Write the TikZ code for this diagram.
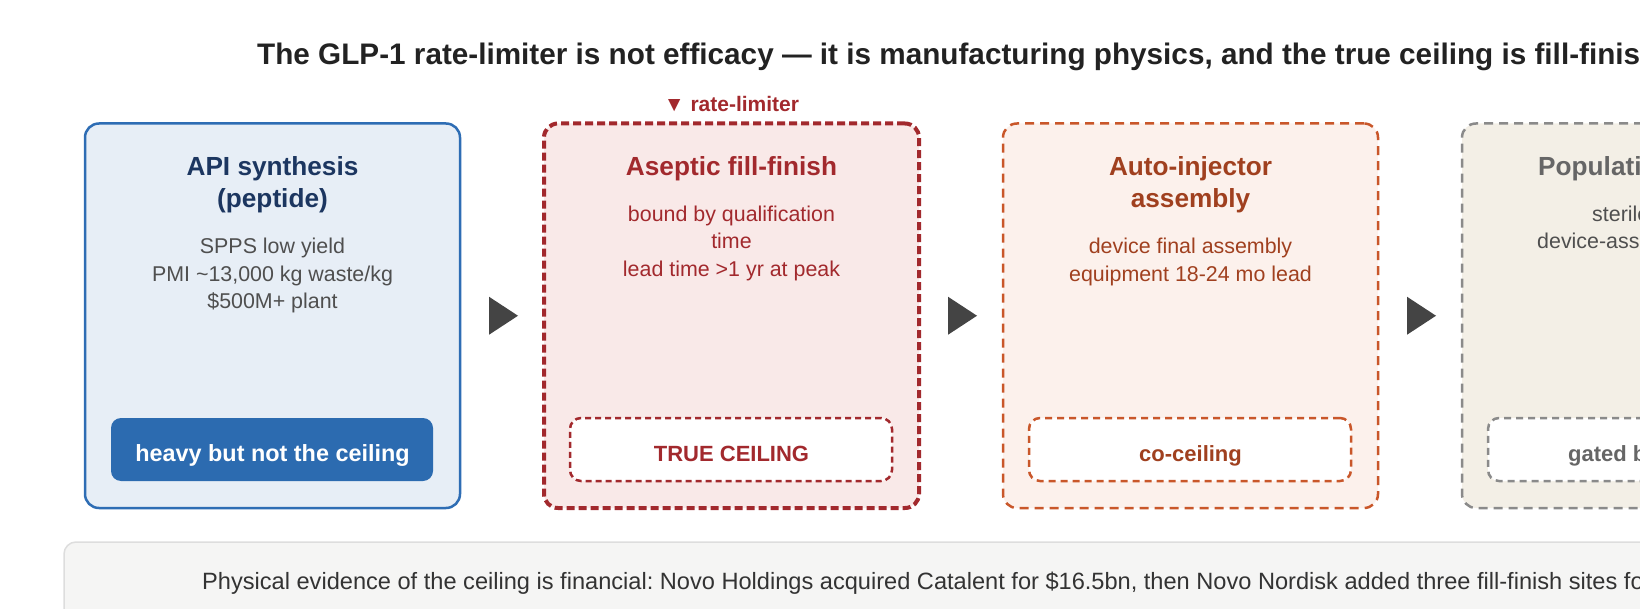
\documentclass[tikz,border=0pt]{standalone}
\usepackage{fontspec}
\setmainfont{Liberation Sans}
\usetikzlibrary{calc}
\frenchspacing
\definecolor{titlecol}{HTML}{222222}
\definecolor{bluefill}{HTML}{E7EEF6}
\definecolor{blueline}{HTML}{2E6DB4}
\definecolor{bluetitle}{HTML}{1C3660}
\definecolor{bodygray}{HTML}{4F4F4F}
\definecolor{pillfill}{HTML}{2C6BB0}
\definecolor{redline}{HTML}{A2292D}
\definecolor{redfill}{HTML}{F9E9E8}
\definecolor{orline}{HTML}{C9572A}
\definecolor{orfill}{HTML}{FCF1EC}
\definecolor{ortext}{HTML}{A0401F}
\definecolor{grline}{HTML}{8A8A8A}
\definecolor{grfill}{HTML}{F3EFE6}
\definecolor{grtitle}{HTML}{666666}
\definecolor{arrowgray}{HTML}{444444}
\definecolor{panelfill}{HTML}{F5F5F4}
\definecolor{panelline}{HTML}{DDDDDD}
\definecolor{paneltext}{HTML}{333333}
\tikzset{
  stagebox/.style={rounded corners=14pt, minimum width=375pt, minimum height=384.5pt,
    inner sep=0pt, outer sep=0pt, anchor=north west},
  tagbox/.style={rounded corners=11pt, minimum width=322pt, minimum height=63pt,
    inner sep=0pt, outer sep=0pt, anchor=north west},
  ttl/.style={anchor=base, inner sep=0pt, font=\fontsize{26.2}{30}\selectfont\bfseries},
  bodytxt/.style={anchor=base, inner sep=0pt, font=\fontsize{21.4}{25}\selectfont},
  tagtxt/.style={anchor=base, inner sep=0pt, font=\fontsize{22}{26}\selectfont\bfseries},
  flowtri/.style={fill=arrowgray},
}
\begin{document}
\begin{tikzpicture}[x=1pt,y=-1pt]
\useasboundingbox (0,0) rectangle (1640,609);
\clip (0,0) rectangle (1640,609);

% heading
\node[anchor=base west, inner sep=0pt, text=titlecol, font=\fontsize{29.7}{34}\selectfont\bfseries]
  (heading) at (257,65) {The GLP-1 rate-limiter is not efficacy — it is manufacturing physics, and the true ceiling is fill-finish};

% stage boxes
\node[stagebox, draw=blueline, fill=bluefill, line width=2.5pt] (b1) at (85,123.5) {};
\node[stagebox, draw=redline, fill=redfill, line width=4pt, dash pattern=on 8pt off 4pt] (b2) at (544,123.5) {};
\node[stagebox, draw=orline, fill=orfill, line width=2.5pt, dash pattern=on 9pt off 6pt] (b3) at (1003,123.5) {};
\node[stagebox, draw=grline, fill=grfill, line width=2.5pt, dash pattern=on 9pt off 6pt] (b4) at (1462,123.5) {};

% rate-limiter marker
\node[anchor=base, inner sep=0pt, text=redline, font=\fontsize{21}{25}\selectfont\bfseries]
  (marker) at ($(b2.north)+(0,-12)$) {▼ rate-limiter};

% box 1
\node[ttl, text=bluetitle] (t1a) at ($(b1.north)+(0,52.5)$) {API synthesis};
\node[ttl, text=bluetitle] (t1b) at ($(b1.north)+(0,84.5)$) {(peptide)};
\node[bodytxt, text=bodygray] (d1a) at ($(b1.north)+(0,130)$) {SPPS low yield};
\node[bodytxt, text=bodygray] (d1b) at ($(b1.north)+(0,157.7)$) {PMI \textasciitilde13,000 kg waste/kg};
\node[bodytxt, text=bodygray] (d1c) at ($(b1.north)+(0,185.4)$) {\$500M+ plant};
\node[tagbox, fill=pillfill, rounded corners=10pt] (g1) at ($(b1.north west)+(26,294.5)$) {};
\node[tagtxt, text=white, font=\fontsize{23.4}{27}\selectfont\bfseries] (g1t) at ($(b1.north)+(0,338)$) {heavy but not the ceiling};

% box 2
\node[ttl, text=redline] (t2a) at ($(b2.north)+(0,52.5)$) {Aseptic fill-finish};
\node[bodytxt, text=redline] (d2a) at ($(b2.north)+(0,97.7)$) {bound by qualification};
\node[bodytxt, text=redline] (d2b) at ($(b2.north)+(0,125.4)$) {time};
\node[bodytxt, text=redline] (d2c) at ($(b2.north)+(0,153.1)$) {lead time >1 yr at peak};
\node[tagbox, fill=white, draw=redline, line width=2.5pt, dash pattern=on 6pt off 4pt] (g2) at ($(b2.north west)+(26,294.5)$) {};
\node[tagtxt, text=redline] (g2t) at ($(b2.north)+(0,338)$) {TRUE CEILING};

% box 3
\node[ttl, text=ortext] (t3a) at ($(b3.north)+(0,52.5)$) {Auto-injector};
\node[ttl, text=ortext] (t3b) at ($(b3.north)+(0,84.5)$) {assembly};
\node[bodytxt, text=ortext] (d3a) at ($(b3.north)+(0,130)$) {device final assembly};
\node[bodytxt, text=ortext] (d3b) at ($(b3.north)+(0,157.7)$) {equipment 18-24 mo lead};
\node[tagbox, fill=white, draw=orline, line width=2.5pt, dash pattern=on 7pt off 5pt] (g3) at ($(b3.north west)+(26,294.5)$) {};
\node[tagtxt, text=ortext] (g3t) at ($(b3.north)+(0,338)$) {co-ceiling};

% box 4 (cut by the right edge)
\node[ttl, anchor=base west, text=grtitle] (t4a) at (1538,176) {Population};
\node[bodytxt, anchor=base west, text=bodygray] (d4a) at (1592,221.2) {sterile};
\node[bodytxt, anchor=base west, text=bodygray] (d4b) at (1537,248.9) {device-assembly};
\node[tagbox, fill=white, draw=grline, line width=2.5pt, dash pattern=on 7pt off 5pt] (g4) at ($(b4.north west)+(26,294.5)$) {};
\node[tagtxt, anchor=base west, text=grtitle] (g4t) at (1568,461.5) {gated by};

% flow triangles
\foreach \a/\b in {b1/b2,b2/b3,b3/b4}{
  \coordinate (m) at ($(\a.east)!0.5!(\b.west)$);
  \fill[flowtri] ($(m)+(-13,-19)$) -- ($(m)+(16,0)$) -- ($(m)+(-13,19)$) -- cycle;
}

% bottom panel
\node[anchor=north west, rounded corners=12pt, draw=panelline, fill=panelfill, line width=1.5pt,
  minimum width=1700pt, minimum height=120pt, inner sep=0pt, outer sep=0pt] (panel) at (64,542) {};
\node[anchor=base west, inner sep=0pt, text=paneltext, font=\fontsize{23.6}{27}\selectfont]
  (note) at (202,589) {Physical evidence of the ceiling is financial: Novo Holdings acquired Catalent for \$16.5bn, then Novo Nordisk added three fill-finish sites for};
\end{tikzpicture}
\end{document}
